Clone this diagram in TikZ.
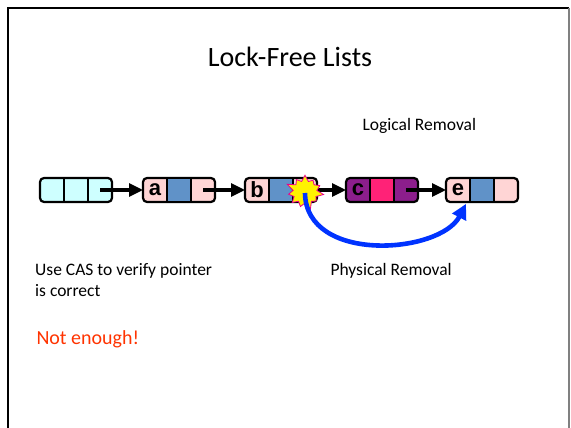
\documentclass[tikz,border=0pt]{standalone}
\usepackage{fontspec}
\setmainfont{Carlito}
\newfontfamily\cellfont{Liberation Sans}
\usetikzlibrary{positioning,arrows.meta,shapes.symbols}
\definecolor{sentcyan}{RGB}{206,255,255}
\definecolor{nodepink}{RGB}{255,213,213}
\definecolor{cellblue}{RGB}{96,146,200}
\definecolor{markpurple}{RGB}{140,30,140}
\definecolor{markpink}{RGB}{255,34,119}
\definecolor{swingblue}{RGB}{0,51,255}
\definecolor{alertred}{RGB}{255,51,0}
\tikzset{
  listbox/.style={draw, rounded corners=4pt, minimum width=72pt, minimum height=24pt,
    inner sep=0pt, outer sep=0pt, line width=2.2pt},
  cell/.style={minimum width=24pt, minimum height=21.8pt, inner sep=0pt, outer sep=0pt,
    font=\cellfont\bfseries\fontsize{22}{22}\selectfont},
  divider/.style={line width=1.6pt},
  nextptr/.style={line width=3.2pt, -{Triangle[length=14pt,width=13pt]}},
  swing/.style={swingblue, line width=4.6pt, -{Triangle[length=15pt,width=15pt]}},
  body/.style={font=\fontsize{17.5}{21}\selectfont},
}

\begin{document}
\begin{tikzpicture}[x=1pt, y=-1pt]
\useasboundingbox (0,0) rectangle (571,428);
% slide frame
\draw[line width=2.2pt] (8,428) -- (8,8) -- (569,8);
\draw[gray, line width=1.2pt] (569,8) -- (569,428);

\node[font=\fontsize{28}{32}\selectfont] (title) at (290,57) {Lock-Free Lists};

% list nodes
\node[listbox, fill=sentcyan] (head) at (76,190) {};
\node[listbox, fill=nodepink, right=31pt of head] (a) {};
\node[listbox, fill=nodepink, right=30pt of a] (b) {};
\node[listbox, fill=markpurple, right=29pt of b] (c) {};
\node[listbox, fill=nodepink, right=28pt of c] (e) {};

\node[cell, right=0pt of head.west] (head-key) {};
\node[cell, right=0pt of head-key] (head-val) {};
\node[cell, right=0pt of head-val] (head-nxt) {};
\node[cell, right=0pt of a.west] (a-key) {a};
\node[cell, fill=cellblue, right=0pt of a-key] (a-val) {};
\node[cell, right=0pt of a-val] (a-nxt) {};
\node[cell, right=0pt of b.west] (b-key) {b};
\node[cell, fill=cellblue, right=0pt of b-key] (b-val) {};
\node[cell, right=0pt of b-val] (b-nxt) {};
\node[cell, right=0pt of c.west] (c-key) {c};
\node[cell, fill=markpink, right=0pt of c-key] (c-val) {};
\node[cell, right=0pt of c-val] (c-nxt) {};
\node[cell, right=0pt of e.west] (e-key) {e};
\node[cell, fill=cellblue, right=0pt of e-key] (e-val) {};
\node[cell, right=0pt of e-val] (e-nxt) {};

\draw[divider] (head-key.north east) -- (head-key.south east);
\draw[divider] (head-val.north east) -- (head-val.south east);
\draw[divider] (a-key.north east) -- (a-key.south east);
\draw[divider] (a-val.north east) -- (a-val.south east);
\draw[divider] (b-key.north east) -- (b-key.south east);
\draw[divider] (b-val.north east) -- (b-val.south east);
\draw[divider] (c-key.north east) -- (c-key.south east);
\draw[divider] (c-val.north east) -- (c-val.south east);
\draw[divider] (e-key.north east) -- (e-key.south east);
\draw[divider] (e-val.north east) -- (e-val.south east);

% next pointers
\draw[nextptr] (head-nxt.center) -- (a.west);
\draw[nextptr] (a-nxt.center) -- (b.west);
\draw[nextptr] (b-nxt.center) -- (c.west);
\draw[nextptr] (c-nxt.center) -- (e.west);

% failed CAS and swing
\node[starburst, starburst points=11, starburst point height=8pt, fill=yellow,
  draw=magenta, line width=0.8pt, minimum width=40pt, minimum height=38pt, inner sep=0pt]
  (bang) at ([yshift=-2pt]b-nxt.center) {};
\draw[swing] ([yshift=-3pt]b-nxt.center) .. controls (306,264) and (440,254)
  .. ([xshift=-4pt,yshift=-3pt]e-key.south east);

\node[right, body] (logical) at (359,126) {Logical Removal};
\node[right, body] (physical) at (327,271) {Physical Removal};
\node[below right, body, align=left, inner sep=0pt] (cas) at (35,263) {Use CAS to verify pointer\\is correct};
\node[right, alertred, font=\fontsize{20}{24}\selectfont] (enough) at (33,339) {Not enough!};
\end{tikzpicture}
\end{document}
